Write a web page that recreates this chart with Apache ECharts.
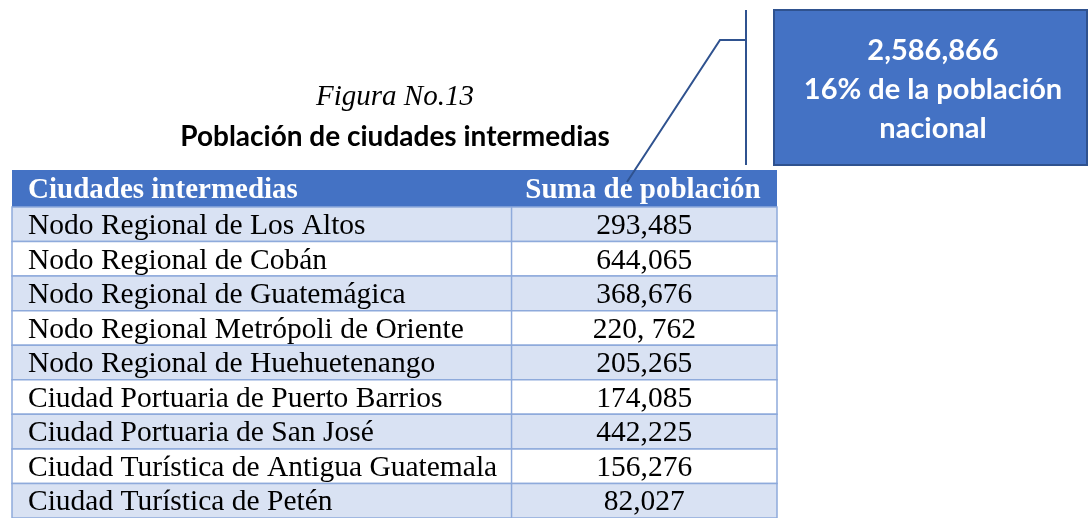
<!DOCTYPE html>
<html>
<head>
<meta charset="utf-8">
<script src="https://cdn.jsdelivr.net/npm/echarts@6/dist/echarts.min.js"></script>
<style>
  html, body { margin: 0; padding: 0; background: #fff; }
  #main { width: 1089px; height: 518px; }
</style>
</head>
<body>
<div id="main"></div>
<script>
// datos de la tabla
const ciudades = [
  'Nodo Regional de Los Altos',
  'Nodo Regional de Cobán',
  'Nodo Regional de Guatemágica',
  'Nodo Regional Metrópoli de Oriente',
  'Nodo Regional de Huehuetenango',
  'Ciudad Portuaria de Puerto Barrios',
  'Ciudad Portuaria de San José',
  'Ciudad Turística de Antigua Guatemala',
  'Ciudad Turística de Petén'
];
const poblacion = ['293,485', '644,065', '368,676', '220, 762', '205,265', '174,085', '442,225', '156,276', '82,027'];
const encabezados = ['Ciudades intermedias', 'Suma de población'];
const totalTexto = ['2,586,866', '16% de la población', 'nacional'];

const chart = echarts.init(document.getElementById('main'));

const BLUE = '#4472C4';
const LIGHT = '#D9E2F3';
const LINE = '#8EAADB';
const SPLIT = 0.653; // fraccion de ancho para la primera columna
const FONT = '29.5px "Liberation Serif"';

const option = {
  backgroundColor: '#fff',
  animation: false,
  grid: { left: 12, right: 312, top: 207, bottom: 0 },
  xAxis: { type: 'value', min: 0, max: 1, show: false },
  yAxis: { type: 'category', data: ciudades, inverse: true, show: false },
  series: [{
    type: 'custom',
    data: ciudades.map((c, i) => [i, c, poblacion[i]]),
    encode: { y: 0 },
    renderItem: function (params, api) {
      const i = api.value(0);
      const p0 = api.coord([0, i]);
      const p1 = api.coord([1, i]);
      const pm = api.coord([SPLIT, i]);
      const h = api.size([0, 1])[1];
      const top = p0[1] - h / 2;
      const fill = i % 2 === 0 ? LIGHT : '#fff';
      return {
        type: 'group',
        children: [
          { type: 'rect', shape: { x: p0[0], y: top, width: p1[0] - p0[0], height: h },
            style: { fill: fill, stroke: LINE, lineWidth: 1.5 } },
          { type: 'line', shape: { x1: pm[0], y1: top, x2: pm[0], y2: top + h },
            style: { stroke: LINE, lineWidth: 1.5 } },
          { type: 'text', x: p0[0] + 16, y: p0[1] + 2,
            style: { text: ciudades[i], fill: '#000', font: FONT,
              verticalAlign: 'middle', align: 'left' } },
          { type: 'text', x: (pm[0] + p1[0]) / 2, y: p0[1] + 2,
            style: { text: poblacion[i], fill: '#000', font: FONT,
              verticalAlign: 'middle', align: 'center' } }
        ]
      };
    }
  }],
  graphic: [
    // encabezado
    { type: 'rect', shape: { x: 12, y: 170, width: 765, height: 37 }, style: { fill: BLUE } },
    { type: 'text', x: 28, y: 191, style: { text: encabezados[0], fill: '#fff',
        font: 'bold 29px "Liberation Serif"', verticalAlign: 'middle' } },
    { type: 'text', x: 643, y: 191, style: { text: encabezados[1], fill: '#fff',
        font: 'bold 29px "Liberation Serif"', verticalAlign: 'middle', align: 'center' } },
    // titulos
    { type: 'text', x: 395, y: 97, style: { text: 'Figura No.13', fill: '#000',
        font: 'italic 29px "Liberation Serif"', verticalAlign: 'middle', align: 'center' } },
    { type: 'text', x: 395, y: 137, style: { text: 'Población de ciudades intermedias', fill: '#000',
        font: 'bold 28px Lato', verticalAlign: 'middle', align: 'center' } },
    // llamada
    { type: 'polyline', shape: { points: [[627, 182], [720, 40], [746, 40]] },
      style: { stroke: '#2F528F', lineWidth: 2, fill: null } },
    { type: 'line', shape: { x1: 746, y1: 10, x2: 746, y2: 165 },
      style: { stroke: '#2F528F', lineWidth: 2 } },
    { type: 'rect', shape: { x: 774, y: 10, width: 313, height: 155 },
      style: { fill: BLUE, stroke: '#2F528F', lineWidth: 2 } },
    { type: 'text', x: 933, y: 90, style: { text: totalTexto.join('\n'), fill: '#fff',
        font: 'bold 29px Lato', lineHeight: 39, verticalAlign: 'middle', align: 'center' } }
  ]
};

chart.setOption(option);
</script>
</body>
</html>
